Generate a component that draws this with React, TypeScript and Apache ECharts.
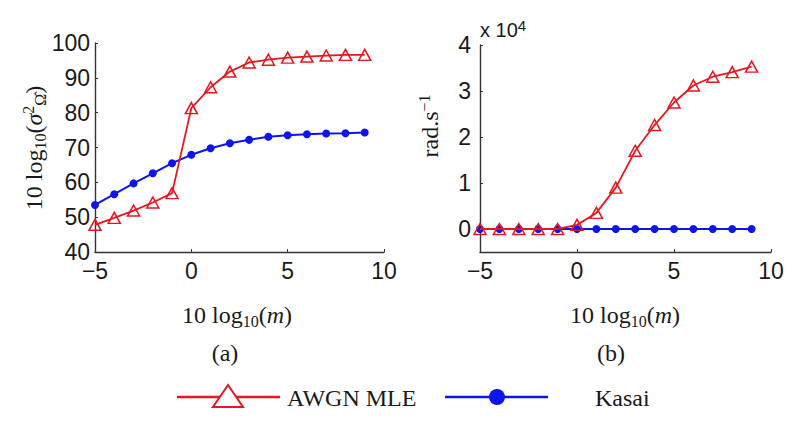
import React, { useEffect, useRef } from "react";
import * as echarts from "echarts";

const xs = [-5, -4, -3, -2, -1, 0, 1, 2, 3, 4, 5, 6, 7, 8, 9];
const mleVarDb = [47.8, 49.8, 51.9, 54.2, 56.9, 81.3, 87.3, 91.8, 94.4, 95.2, 95.8, 96.1, 96.4, 96.6, 96.6];
const kasaiVarDb = [53.5, 56.6, 59.7, 62.6, 65.5, 67.9, 69.8, 71.2, 72.2, 73.1, 73.5, 73.8, 74.0, 74.1, 74.3];
// rad.s^-1, in units of 10^4
const mleRate = [0, 0, 0, 0, 0, 0.09, 0.35, 0.9, 1.7, 2.26, 2.75, 3.12, 3.31, 3.41, 3.53];
const kasaiRate = [0, 0, 0, 0, 0, 0, 0, 0, 0, 0, 0, 0, 0, 0, 0];
const rateTicks = [0, 1, 2, 3, 4];
const seriesNames = ["AWGN MLE", "Kasai"];

const RED = "#e8161e";
const BLUE = "#0d14ee";
const AXIS = "#333333";
const INK = "#1a1a1a";
const SANS = "'Liberation Sans', Arial, sans-serif";
const SERIF = "'Liberation Serif', 'Times New Roman', Times, serif";
const TICK_FS = 23;

const pairs = (v: number[]) => xs.map((x, i) => [x, v[i]]);

const axisLine = { show: true, onZero: false, lineStyle: { color: AXIS, width: 1.4 } };
const axisTick = { show: true, inside: true, length: 3, lineStyle: { color: AXIS } };

const xAxisBase = (gridIndex: number) => ({
  type: "value",
  gridIndex,
  min: -5,
  max: 10,
  interval: 5,
  axisLine,
  axisTick,
  splitLine: { show: false },
  axisLabel: {
    color: INK,
    fontFamily: SANS,
    fontSize: TICK_FS,
    margin: 7,
    formatter: (v: number) => String(v).replace("-", "\u2212"),
  },
});

const tok = (size: number, va: string, extra: any = {}) => ({
  fontSize: size,
  fontFamily: SERIF,
  fill: INK,
  verticalAlign: va,
  lineHeight: size <= 16 ? 14 : 28,
  ...extra,
});

const subRich = {
  n: tok(24, "middle"),
  sub: tok(16, "bottom"),
  sup: tok(16, "top"),
  it: tok(24, "middle", { fontStyle: "italic" }),
};

const serifText = (text: string, x: number, y: number, extra: any = {}) => ({
  type: "text",
  x,
  y,
  rotation: extra.rotation || 0,
  style: {
    text,
    fill: INK,
    fontFamily: SERIF,
    fontSize: 24,
    fontWeight: "normal",
    lineHeight: 28,
    align: extra.align || "center",
    verticalAlign: "middle",
    rich: subRich,
  },
});

const plainSerif = (text: string, x: number, y: number) => ({
  type: "text",
  x,
  y,
  style: {
    text,
    fill: INK,
    font: `24px ${SERIF}`,
    align: "left",
    verticalAlign: "middle",
  },
});

export default function App() {
  const ref = useRef<HTMLDivElement>(null);
  useEffect(() => {
    if (!ref.current) return;
    const chart = echarts.init(ref.current, null, { renderer: "svg" });
    chart.setOption({
      animation: false,
      backgroundColor: "#ffffff",
      grid: [
        { left: 95, top: 43, width: 289, height: 209 },
        { left: 480, top: 45, width: 291, height: 207 },
      ],
      xAxis: [xAxisBase(0), xAxisBase(1)],
      yAxis: [
        {
          type: "value",
          gridIndex: 0,
          min: 40,
          max: 100,
          interval: 10,
          axisLine,
          axisTick,
          splitLine: { show: false },
          axisLabel: { color: INK, fontFamily: SANS, fontSize: TICK_FS, margin: 5 },
        },
        {
          type: "value",
          gridIndex: 1,
          min: -0.5,
          max: 4,
          axisLine,
          axisTick: { ...axisTick, customValues: rateTicks },
          splitLine: { show: false },
          axisLabel: { color: INK, fontFamily: SANS, fontSize: TICK_FS, margin: 9, customValues: rateTicks },
        },
      ],
      series: [
        {
          name: seriesNames[1],
          type: "line",
          xAxisIndex: 0,
          yAxisIndex: 0,
          data: pairs(kasaiVarDb),
          symbol: "circle",
          symbolSize: 8,
          itemStyle: { color: BLUE },
          lineStyle: { color: BLUE, width: 2 },
          z: 2,
        },
        {
          name: seriesNames[0],
          type: "line",
          xAxisIndex: 0,
          yAxisIndex: 0,
          data: pairs(mleVarDb),
          symbol: "triangle",
          symbolSize: [12, 11],
          itemStyle: { color: "rgba(0,0,0,0)", borderColor: RED, borderWidth: 1.5 },
          lineStyle: { color: RED, width: 1.8 },
          z: 3,
        },
        {
          name: seriesNames[1],
          type: "line",
          xAxisIndex: 1,
          yAxisIndex: 1,
          data: pairs(kasaiRate),
          symbol: "circle",
          symbolSize: 8,
          itemStyle: { color: BLUE },
          lineStyle: { color: BLUE, width: 2 },
          z: 2,
        },
        {
          name: seriesNames[0],
          type: "line",
          xAxisIndex: 1,
          yAxisIndex: 1,
          data: pairs(mleRate),
          symbol: "triangle",
          symbolSize: [12, 11],
          itemStyle: { color: "rgba(0,0,0,0)", borderColor: RED, borderWidth: 1.5 },
          lineStyle: { color: RED, width: 1.8 },
          z: 3,
        },
      ],
      graphic: [
        serifText("{n|10 log}{sub|10}{n|(}{it|σ}{sup|2}{sub|Ω\u0302}{n|)}", 34, 148, { rotation: Math.PI / 2 }),
        serifText("{n|rad.s}{sup|\u22121}", 430, 126, { rotation: Math.PI / 2 }),
        {
          type: "text",
          x: 480,
          y: 30,
          style: {
            text: "{a|x 10}{s|4}",
            fill: INK,
            fontFamily: SANS,
            fontSize: 20,
            lineHeight: 24,
            align: "left",
            verticalAlign: "middle",
            rich: {
              a: { fontSize: 20, fontFamily: SANS, verticalAlign: "middle", lineHeight: 24, fill: INK },
              s: { fontSize: 15, fontFamily: SANS, verticalAlign: "top", lineHeight: 12, fill: INK },
            },
          },
        },
        serifText("{n|10 log}{sub|10}{n|(}{it|m}{n|)}", 237, 315),
        serifText("{n|10 log}{sub|10}{n|(}{it|m}{n|)}", 625, 315),
        serifText("{n|(a)}", 225, 353),
        serifText("{n|(b)}", 611, 353),
        // legend
        { type: "line", shape: { x1: 177, y1: 397, x2: 280, y2: 397 }, style: { stroke: RED, lineWidth: 2.4 } },
        {
          type: "polygon",
          shape: { points: [[228, 385], [213, 407], [243, 407]] },
          style: { fill: "#ffffff", stroke: RED, lineWidth: 2 },
        },
        plainSerif(seriesNames[0], 287, 398),
        { type: "line", shape: { x1: 445, y1: 397, x2: 548, y2: 397 }, style: { stroke: BLUE, lineWidth: 2.4 } },
        { type: "circle", shape: { cx: 497, cy: 397, r: 8 }, style: { fill: BLUE } },
        plainSerif(seriesNames[1], 595, 398),
      ],
    });
    return () => chart.dispose();
  }, []);
  return (
    <div
      ref={ref}
      style={{ position: "fixed", left: 0, top: 0, width: 800, height: 422, background: "#fff" }}
    />
  );
}
